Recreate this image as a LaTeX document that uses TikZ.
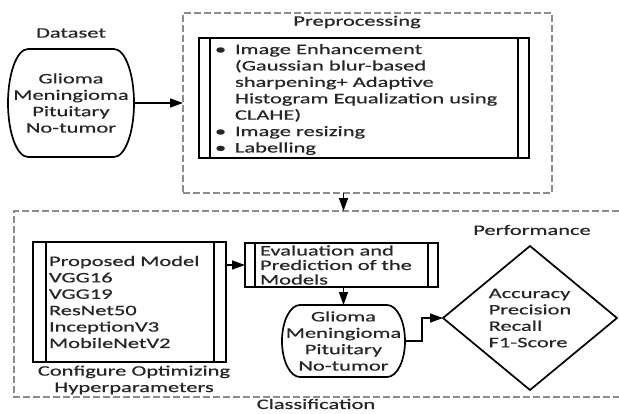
\documentclass[tikz,border=0pt]{standalone}
\usepackage{fontspec}
\setmainfont{Carlito}[FakeStretch=1.55,FakeBold=0.6]
\usetikzlibrary{shapes.geometric,arrows.meta,calc}
\begin{document}
\begin{tikzpicture}[x=1pt,y=-1pt,
  every node/.style={font=\fontsize{14.5}{16.4}\selectfont, text=black!85, inner sep=0pt, outer sep=0pt},
  shapeline/.style={draw=black, line width=1.7pt},
  dashbox/.style={draw=black!45, dash pattern=on 7pt off 3pt, line width=1.1pt},
  arr/.style={draw=black, line width=1.5pt, -{Triangle[length=13pt,width=9pt]}},
  lbl/.style={align=center},
]
\useasboundingbox (0,0) rectangle (619,413);

% Dataset
\node[lbl] (dslabel) at (71,33) {Dataset};
\node[lbl, minimum width=126pt, minimum height=108pt] (ds) at (71,103) {Glioma\\Meningioma\\Pituitary\\No-tumor};
\draw[shapeline] ([xshift=20pt]ds.north west) -- ([xshift=-20pt]ds.north east)
  arc[start angle=90,end angle=-90,x radius=20pt,y radius=54pt]
  -- ([xshift=20pt]ds.south west)
  arc[start angle=270,end angle=90,x radius=20pt,y radius=54pt] -- cycle;

% Preprocessing
\node[dashbox, draw, minimum width=369pt, minimum height=180pt] (prep) at (367.5,103) {};
\node[lbl] (preplabel) at (357,22) {Preprocessing};
\node[shapeline, minimum width=330pt, minimum height=120pt] (ppbox) at (364,98) {};
\draw[shapeline] ([xshift=11pt]ppbox.north west) -- ([xshift=11pt]ppbox.south west);
\draw[shapeline] ([xshift=-11pt]ppbox.north east) -- ([xshift=-11pt]ppbox.south east);
\node[anchor=west] (pptext) at (215,100) {\begin{tabular}{@{}p{20pt}@{}l@{}}
\textbullet & Image Enhancement\\
 & (Gaussian blur-based\\
 & sharpening+ Adaptive\\
 & Histogram Equalization using\\
 & CLAHE)\\
\textbullet & Image resizing\\
\textbullet & Labelling
\end{tabular}};

% Classification
\node[minimum width=610pt, minimum height=186pt] (cls) at (319,304) {};
\draw[dashbox] (619,211) -- (cls.north west) -- (cls.south west) -- (619,397);
\node[lbl] (clslabel) at (316,404) {Classification};

% Models
\node[shapeline, minimum width=193pt, minimum height=120pt, text width=161pt, align=left] (models) at (129.5,302)
  {Proposed Model\\VGG16\\VGG19\\ResNet50\\InceptionV3\\MobileNetV2};
\draw[shapeline] ([xshift=13pt]models.north west) -- ([xshift=13pt]models.south west);
\draw[shapeline] ([xshift=-12pt]models.north east) -- ([xshift=-12pt]models.south east);
\node[lbl] (cfg) at (134,380) {Configure Optimizing\\Hyperparameters};

% Evaluation
\node[shapeline, minimum width=193pt, minimum height=44pt, text width=163pt, align=left,
  font=\fontsize{14.5}{14.5}\selectfont] (eval) at (341.5,265)
  {Evaluation and\\Prediction of the\\Models};
\draw[shapeline] ([xshift=10pt]eval.north west) -- ([xshift=10pt]eval.south west);
\draw[shapeline] ([xshift=-10pt]eval.north east) -- ([xshift=-10pt]eval.south east);

% Output classes
\node[lbl, minimum width=123pt, minimum height=72pt] (g2) at (343.5,341) {Glioma\\Meningioma\\Pituitary\\No-tumor};
\draw[shapeline] ([xshift=18pt]g2.north west) -- ([xshift=-18pt]g2.north east)
  arc[start angle=90,end angle=-90,x radius=18pt,y radius=36pt]
  -- ([xshift=18pt]g2.south west)
  arc[start angle=270,end angle=90,x radius=18pt,y radius=36pt] -- cycle;

% Performance
\node[lbl] (perflabel) at (532,230) {Performance};
\node[diamond, shapeline, minimum width=174pt, minimum height=144pt, align=left] (perf) at (530,318)
  {Accuracy\\Precision\\Recall\\F1-Score};

% Connectors
\draw[arr] (ds.east) -- (prep.west);
\draw[arr] (prep.south -| g2) -- (cls.north -| g2);
\draw[arr] (models.east |- eval.west) -- (eval.west);
\draw[arr] (eval.south -| g2) -- (g2.north);
\draw[arr] (g2.east) -- ++(17,0) |- (perf.west);
\end{tikzpicture}
\end{document}
